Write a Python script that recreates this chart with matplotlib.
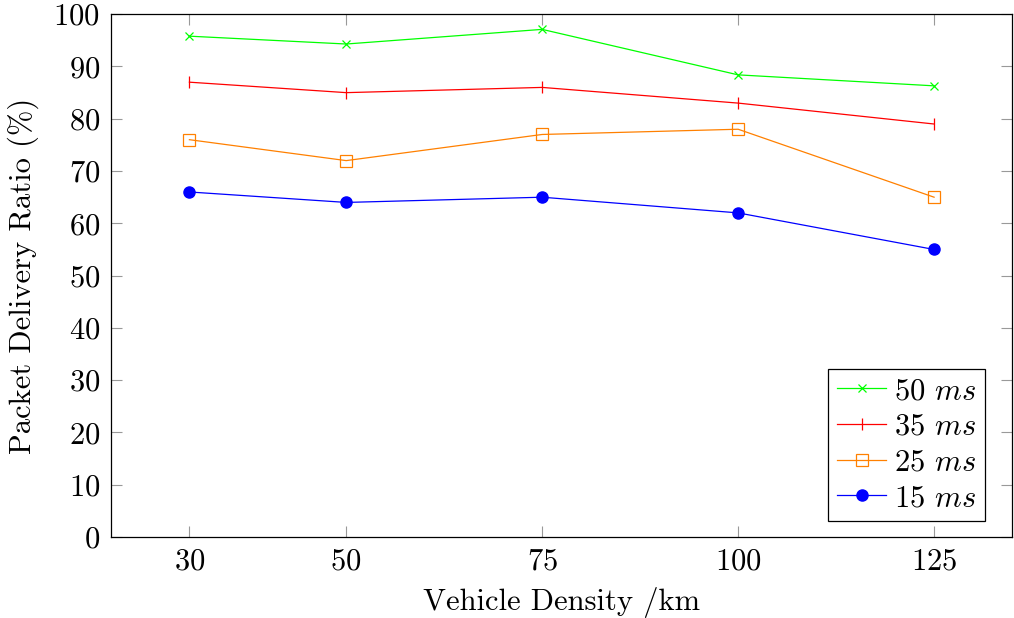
import numpy as np
import matplotlib as mpl
import matplotlib.pyplot as plt

mpl.rcParams['font.family'] = 'cmr10'
mpl.rcParams['mathtext.fontset'] = 'cm'
mpl.rcParams['axes.formatter.use_mathtext'] = True

# data
density = [30, 50, 75, 100, 125]
pdr_50 = [95.8, 94.3, 97.1, 88.4, 86.3]
pdr_35 = [87, 85, 86, 83, 79]
pdr_25 = [76, 72, 77, 78, 65]
pdr_15 = [66, 64, 65, 62, 55]
y_ticks = list(range(0, 101, 10))

fig = plt.figure(figsize=(10.14, 6.18), dpi=100)
ax = fig.add_axes([0.1095, 0.131, 0.889, 0.846])

ax.plot(density, pdr_50, color=(0, 1, 0), lw=0.9, marker='x', ms=5.5, mew=0.9, label='50 $ms$')
ax.plot(density, pdr_35, color=(1, 0, 0), lw=0.9, marker='|', ms=8, mew=0.9, label='35 $ms$')
ax.plot(density, pdr_25, color=(1, 0.5, 0), lw=0.9, marker='s', ms=8, mew=0.9,
        mfc='none', label='25 $ms$')
ax.plot(density, pdr_15, color=(0, 0, 1), lw=0.9, marker='o', ms=8, label='15 $ms$')

ax.set_xlim(20, 135)
ax.set_ylim(0, 100)
ax.set_xticks(density)
ax.set_yticks(y_ticks)
ax.tick_params(direction='in', length=8, width=0.8, color='#999999',
               labelsize=22, top=True, right=True, pad=8)
for s in ax.spines.values():
    s.set_linewidth(0.9)

ax.set_xlabel('Vehicle Density /km', fontsize=22, labelpad=8)
ax.set_ylabel('Packet Delivery Ratio (%)', fontsize=22, labelpad=10)

leg = ax.legend(loc='lower right', bbox_to_anchor=(0.97, 0.03), borderaxespad=0,
                fontsize=22, fancybox=False, framealpha=1, edgecolor='black',
                handlelength=1.6, handletextpad=0.25, labelspacing=0.27,
                borderpad=0.3)
leg.get_frame().set_linewidth(0.9)

fig.savefig('out.png', dpi=100)
